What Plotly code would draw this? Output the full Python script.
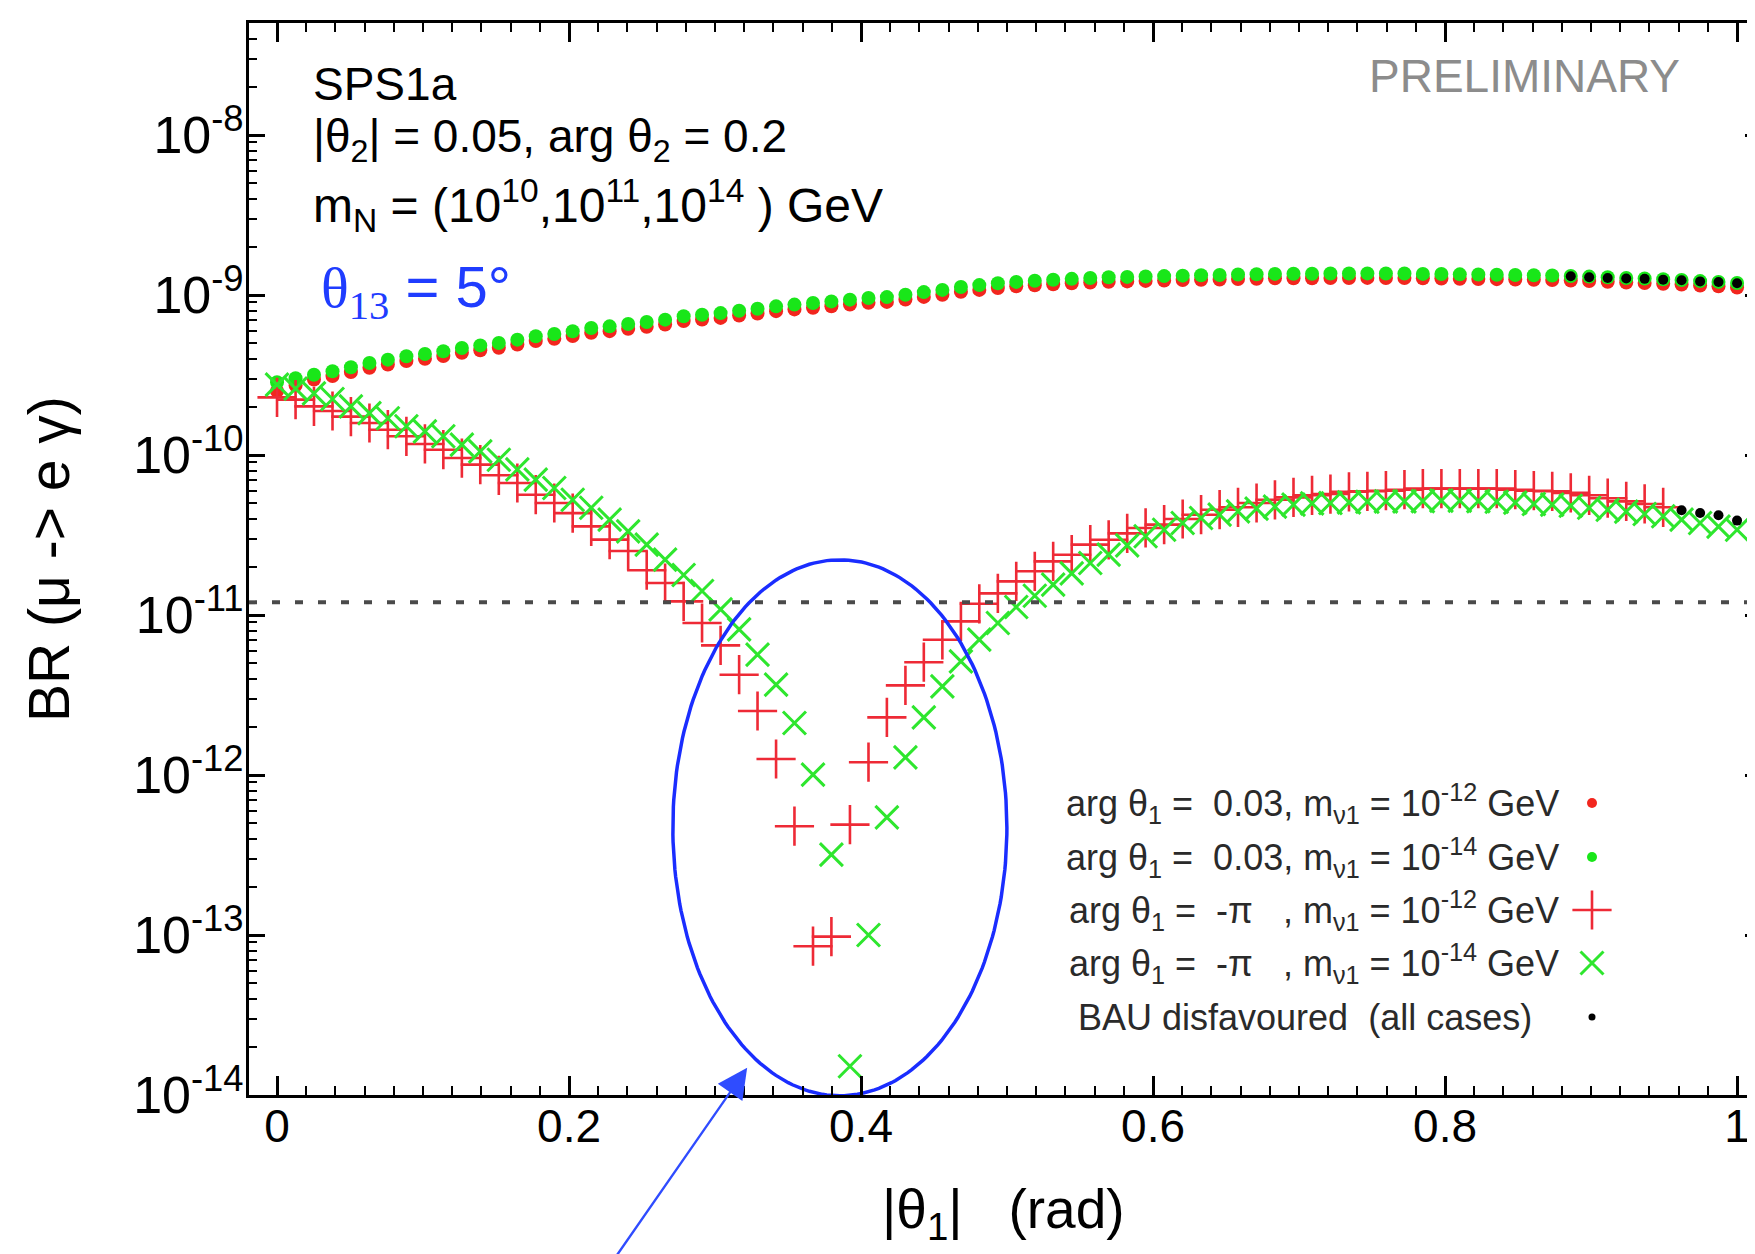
import numpy as np
import plotly.graph_objects as go

# ---------------- data ----------------
# |theta_1| grid (rad), 80 points from 0 to 1
THETA1 = [0.0, 0.0127, 0.0253, 0.038, 0.0506, 0.0633, 0.0759, 0.0886, 0.1013, 0.1139,
          0.1266, 0.1392, 0.1519, 0.1646, 0.1772, 0.1899, 0.2025, 0.2152, 0.2278, 0.2405,
          0.2532, 0.2658, 0.2785, 0.2911, 0.3038, 0.3165, 0.3291, 0.3418, 0.3544, 0.3671,
          0.3797, 0.3924, 0.4051, 0.4177, 0.4304, 0.443, 0.4557, 0.4684, 0.481, 0.4937,
          0.5063, 0.519, 0.5316, 0.5443, 0.557, 0.5696, 0.5823, 0.5949, 0.6076, 0.6203,
          0.6329, 0.6456, 0.6582, 0.6709, 0.6835, 0.6962, 0.7089, 0.7215, 0.7342, 0.7468,
          0.7595, 0.7722, 0.7848, 0.7975, 0.8101, 0.8228, 0.8354, 0.8481, 0.8608, 0.8734,
          0.8861, 0.8987, 0.9114, 0.9241, 0.9367, 0.9494, 0.962, 0.9747, 0.9873, 1.0]

# log10 BR(mu -> e gamma), arg theta1 = 0.03, m_nu1 = 1e-14 GeV (green dots)
LOG_BR_GREEN_DOT = [-9.545, -9.52, -9.498, -9.477, -9.452, -9.425, -9.404, -9.383, -9.369, -9.352,
                    -9.331, -9.315, -9.300, -9.279, -9.258, -9.244, -9.227, -9.206, -9.196, -9.181,
                    -9.169, -9.154, -9.133, -9.123, -9.113, -9.098, -9.086, -9.071, -9.060, -9.050,
                    -9.040, -9.029, -9.019, -9.013, -8.998, -8.982, -8.968, -8.950, -8.938, -8.927,
                    -8.918, -8.911, -8.905, -8.899, -8.894, -8.889, -8.887, -8.884, -8.882, -8.879,
                    -8.877, -8.875, -8.872, -8.870, -8.868, -8.867, -8.867, -8.866, -8.866, -8.865,
                    -8.866, -8.866, -8.868, -8.869, -8.871, -8.872, -8.873, -8.875, -8.877, -8.878,
                    -8.881, -8.885, -8.889, -8.894, -8.897, -8.902, -8.906, -8.913, -8.918, -8.925]

# arg theta1 = 0.03, m_nu1 = 1e-12 GeV (red dots)
LOG_BR_RED_DOT = [-9.600, -9.565, -9.528, -9.507, -9.482, -9.455, -9.434, -9.413, -9.399, -9.382,
                  -9.361, -9.345, -9.330, -9.309, -9.288, -9.274, -9.257, -9.236, -9.226, -9.211,
                  -9.199, -9.184, -9.163, -9.153, -9.143, -9.128, -9.116, -9.101, -9.090, -9.080,
                  -9.070, -9.059, -9.049, -9.043, -9.028, -9.012, -8.998, -8.980, -8.968, -8.957,
                  -8.946, -8.939, -8.933, -8.927, -8.922, -8.917, -8.915, -8.912, -8.910, -8.907,
                  -8.905, -8.903, -8.900, -8.898, -8.896, -8.895, -8.895, -8.894, -8.894, -8.893,
                  -8.894, -8.894, -8.896, -8.897, -8.899, -8.900, -8.901, -8.903, -8.905, -8.906,
                  -8.909, -8.913, -8.917, -8.922, -8.925, -8.930, -8.934, -8.941, -8.946, -8.953]

# arg theta1 = -pi, m_nu1 = 1e-12 GeV (red plus), first 76 points
LOG_BR_RED_PLUS = [-9.640, -9.654, -9.696, -9.725, -9.760, -9.800, -9.842, -9.883, -9.931, -9.967,
                   -10.019, -10.060, -10.127, -10.175, -10.248, -10.300, -10.363, -10.446, -10.529, -10.600,
                   -10.720, -10.800, -10.915, -11.050, -11.190, -11.373, -11.600, -11.900, -12.320, -13.070,
                   -13.010, -12.310, -11.920, -11.640, -11.440, -11.295, -11.155, -11.040, -10.930, -10.865,
                   -10.790, -10.727, -10.665, -10.623, -10.560, -10.530, -10.490, -10.456, -10.435, -10.400,
                   -10.373, -10.342, -10.327, -10.300, -10.280, -10.265, -10.252, -10.244, -10.230, -10.227,
                   -10.223, -10.217, -10.210, -10.210, -10.210, -10.210, -10.210, -10.217, -10.223, -10.227,
                   -10.237, -10.252, -10.270, -10.290, -10.306, -10.327]

# arg theta1 = -pi, m_nu1 = 1e-14 GeV (green cross)
LOG_BR_GREEN_X = [-9.560, -9.585, -9.615, -9.650, -9.696, -9.738, -9.770, -9.820, -9.852, -9.883,
                  -9.935, -9.977, -10.030, -10.090, -10.154, -10.206, -10.280, -10.330, -10.404, -10.477,
                  -10.560, -10.654, -10.750, -10.850, -10.965, -11.090, -11.248, -11.435, -11.675, -11.998,
                  -12.498, -13.820, -13.000, -12.265, -11.890, -11.640, -11.446, -11.290, -11.154, -11.050,
                  -10.950, -10.880, -10.810, -10.740, -10.675, -10.623, -10.565, -10.508, -10.467, -10.425,
                  -10.394, -10.373, -10.352, -10.335, -10.323, -10.310, -10.302, -10.300, -10.296, -10.292,
                  -10.290, -10.290, -10.288, -10.285, -10.285, -10.288, -10.292, -10.298, -10.306, -10.310,
                  -10.317, -10.330, -10.342, -10.354, -10.369, -10.383, -10.404, -10.425, -10.448, -10.467]

# BAU disfavoured points (black)
BAU_UPPER_X = [0.8861, 0.8987, 0.9114, 0.9241, 0.9367, 0.9494, 0.962, 0.9747, 0.9873, 1.0]
LOG_BAU_UPPER = [-8.883, -8.889, -8.894, -8.897, -8.899, -8.904, -8.908, -8.915, -8.919, -8.927]
BAU_LOWER_X = [0.962, 0.9747, 0.9873, 1.0]
LOG_BAU_LOWER = [-10.345, -10.362, -10.377, -10.410]

MEG_BOUND = 1.2e-11

Y_TICK_EXP = [-14, -13, -12, -11, -10, -9, -8]
X_TICKS = [0, 0.2, 0.4, 0.6, 0.8, 1]
X_TICK_TEXT = ["0", "0.2", "0.4", "0.6", "0.8", "1"]

LEGEND_TEXT = [
    "arg θ<sub>1</sub> =  0.03, m<sub>ν1</sub> = 10<sup>-12</sup> GeV",
    "arg θ<sub>1</sub> =  0.03, m<sub>ν1</sub> = 10<sup>-14</sup> GeV",
    "arg θ<sub>1</sub> =  -π   , m<sub>ν1</sub> = 10<sup>-12</sup> GeV",
    "arg θ<sub>1</sub> =  -π   , m<sub>ν1</sub> = 10<sup>-14</sup> GeV",
    "BAU disfavoured  (all cases)",
]

# ---------------- geometry of the frame (pixels) ----------------
W, H = 1755, 1254
ML, MR, MT, MB = 241, 2, 15, 167
PW, PH = W - ML - MR, H - MT - MB


def px(xp):
    return (xp - ML) / PW


def py(yp):
    return 1 - (yp - MT) / PH


def br(vals):
    return [10 ** v for v in vals]


SANS = "Liberation Sans, Arial, Helvetica, sans-serif"
RED = "#f2261e"
GREEN = "#19e619"
XGREEN = "#2ee62e"
PLUSRED = "#ee2a36"

fig = go.Figure()

fig.add_trace(go.Scatter(x=THETA1, y=br(LOG_BR_RED_DOT), mode="markers",
                         marker=dict(symbol="circle", size=14, color=RED, line=dict(width=0)),
                         showlegend=False))
fig.add_trace(go.Scatter(x=THETA1, y=br(LOG_BR_GREEN_DOT), mode="markers",
                         marker=dict(symbol="circle", size=14, color=GREEN, line=dict(width=0)),
                         showlegend=False))
fig.add_trace(go.Scatter(x=THETA1[:len(LOG_BR_RED_PLUS)], y=br(LOG_BR_RED_PLUS), mode="markers",
                         marker=dict(symbol="cross-thin", size=28, color=PLUSRED,
                                     line=dict(width=2.6, color=PLUSRED)),
                         showlegend=False))
fig.add_trace(go.Scatter(x=THETA1, y=br(LOG_BR_GREEN_X), mode="markers",
                         marker=dict(symbol="x-thin", size=23, color=XGREEN,
                                     line=dict(width=3, color=XGREEN)),
                         showlegend=False))
fig.add_trace(go.Scatter(x=BAU_UPPER_X + BAU_LOWER_X, y=br(LOG_BAU_UPPER + LOG_BAU_LOWER),
                         mode="markers",
                         marker=dict(symbol="circle", size=10, color="black", line=dict(width=0)),
                         showlegend=False))

# MEG bound (dotted)
fig.add_trace(go.Scatter(x=[-0.0192, 1.0164], y=[MEG_BOUND, MEG_BOUND], mode="lines",
                         line=dict(color="#4a4a4a", width=4, dash="8px,15px"),
                         showlegend=False, hoverinfo="skip"))

# Blue ellipse highlighting the cancellation region (drawn in log space)
ELL_CX, ELL_RX, ELL_CY, ELL_RY = 0.3855, 0.1144, -12.33, 1.675
t = np.linspace(0, 2 * np.pi, 241)
fig.add_trace(go.Scatter(x=ELL_CX + ELL_RX * np.cos(t), y=10 ** (ELL_CY + ELL_RY * np.sin(t)),
                         mode="lines", line=dict(color="#1a2dff", width=3.5),
                         showlegend=False, hoverinfo="skip"))

# ---------------- legend (gnuplot style: text then symbol) ----------------
LEG_ROWS_Y = [795, 849, 902, 955, 1009]
LEG_TEXT_RIGHT = [1553, 1553, 1553, 1553, 1526]
LEG_SYM_X = 1584
leg_styles = [
    dict(symbol="circle", size=10, color=RED, line=dict(width=0)),
    dict(symbol="circle", size=10, color=GREEN, line=dict(width=0)),
    dict(symbol="cross-thin", size=28, color=PLUSRED, line=dict(width=2.6, color=PLUSRED)),
    dict(symbol="x-thin", size=23, color=XGREEN, line=dict(width=3, color=XGREEN)),
    dict(symbol="circle", size=7, color="black", line=dict(width=0)),
]
for txt, yr, xr, st in zip(LEGEND_TEXT, LEG_ROWS_Y, LEG_TEXT_RIGHT, leg_styles):
    fig.add_annotation(text=txt, xref="paper", yref="paper", x=px(xr), y=py(yr),
                       xanchor="right", yanchor="middle", showarrow=False,
                       font=dict(family=SANS, size=36, color="#2a2a2a"))
    fig.add_trace(go.Scatter(x=[px(LEG_SYM_X)], y=[py(yr)], xaxis="x2", yaxis="y2",
                             mode="markers", marker=st, showlegend=False, hoverinfo="skip"))

# ---------------- texts ----------------
fig.add_annotation(text="SPS1a", xref="paper", yref="paper", x=px(303), y=py(76),
                   xanchor="left", yanchor="middle", showarrow=False,
                   font=dict(family=SANS, size=46, color="black"))
fig.add_annotation(text="|θ<sub>2</sub>| = 0.05, arg θ<sub>2</sub> = 0.2", xref="paper", yref="paper",
                   x=px(303), y=py(131), xanchor="left", yanchor="middle", showarrow=False,
                   font=dict(family=SANS, size=46, color="black"))
fig.add_annotation(text="m<sub>N</sub> = (10<sup>10</sup>,10<sup>11</sup>,10<sup>14</sup> ) GeV",
                   xref="paper", yref="paper", x=px(303), y=py(197), xanchor="left",
                   yanchor="middle", showarrow=False,
                   font=dict(family=SANS, size=48, color="black"))
fig.add_annotation(text='<span style="font-family:Liberation Serif, Times New Roman, serif">θ<sub>13</sub></span> = 5°',
                   xref="paper", yref="paper", x=px(311), y=py(283), xanchor="left",
                   yanchor="middle", showarrow=False,
                   font=dict(family=SANS, size=58, color="#1f3cff"))
fig.add_annotation(text="PRELIMINARY", xref="paper", yref="paper", x=px(1674), y=py(68),
                   xanchor="right", yanchor="middle", showarrow=False,
                   font=dict(family=SANS, size=46, color="#8c8c8c"))

# axis titles
fig.add_annotation(text="BR (μ -> e γ)", xref="paper", yref="paper", x=px(41), y=py(551),
                   xanchor="center", yanchor="middle", textangle=-90, showarrow=False,
                   font=dict(family=SANS, size=57, color="black"))
fig.add_annotation(text="|θ<sub>1</sub>|   (rad)", xref="paper", yref="paper", x=px(995), y=py(1205),
                   xanchor="center", yanchor="middle", showarrow=False,
                   font=dict(family=SANS, size=55, color="black"))

# arrow pointing at the ellipse
fig.add_annotation(x=0.322, y=-13.83, xref="x", yref="y", text="", showarrow=True,
                   ax=-135, ay=205, axref="pixel", ayref="pixel",
                   arrowhead=2, arrowsize=2.6, arrowwidth=2.3, arrowcolor="#2f4cff")

# ---------------- axes ----------------
x_minor = [round(0.02 * k, 2) for k in range(0, 51) if k % 10 != 0]
y_minor = [m * 10.0 ** e for e in range(-14, -7) for m in range(2, 10)]

fig.update_layout(
    width=W, height=H,
    margin=dict(l=ML, r=MR, t=MT, b=MB, autoexpand=False),
    paper_bgcolor="white", plot_bgcolor="white",
    showlegend=False,
    font=dict(family=SANS, color="black"),
    xaxis=dict(range=[-0.0192, 1.0164], showgrid=False, zeroline=False,
               showline=True, linecolor="black", linewidth=3, mirror="allticks",
               tickmode="array", tickvals=X_TICKS, ticktext=X_TICK_TEXT,
               ticks="inside", ticklen=19, tickwidth=2.5, tickcolor="black",
               ticklabelstandoff=-11,
               tickfont=dict(family=SANS, size=46, color="black"),
               minor=dict(tickmode="array", tickvals=x_minor, ticks="inside",
                          ticklen=9, tickwidth=2, tickcolor="black", showgrid=False)),
    yaxis=dict(type="log", range=[-14, -7.3], showgrid=False, zeroline=False,
               showline=True, linecolor="black", linewidth=3, mirror="allticks",
               tickmode="array", tickvals=[10.0 ** e for e in Y_TICK_EXP],
               ticktext=["10<sup>%d</sup>" % e for e in Y_TICK_EXP],
               ticks="inside", ticklen=16, tickwidth=3, tickcolor="black",
               ticklabelstandoff=-8,
               tickfont=dict(family=SANS, size=52, color="black"),
               minor=dict(tickmode="array", tickvals=y_minor, ticks="inside",
                          ticklen=8, tickwidth=2, tickcolor="black", showgrid=False)),
    xaxis2=dict(overlaying="x", range=[0, 1], visible=False, fixedrange=True),
    yaxis2=dict(overlaying="y", range=[0, 1], visible=False, fixedrange=True),
)

fig.write_html("out.html")
